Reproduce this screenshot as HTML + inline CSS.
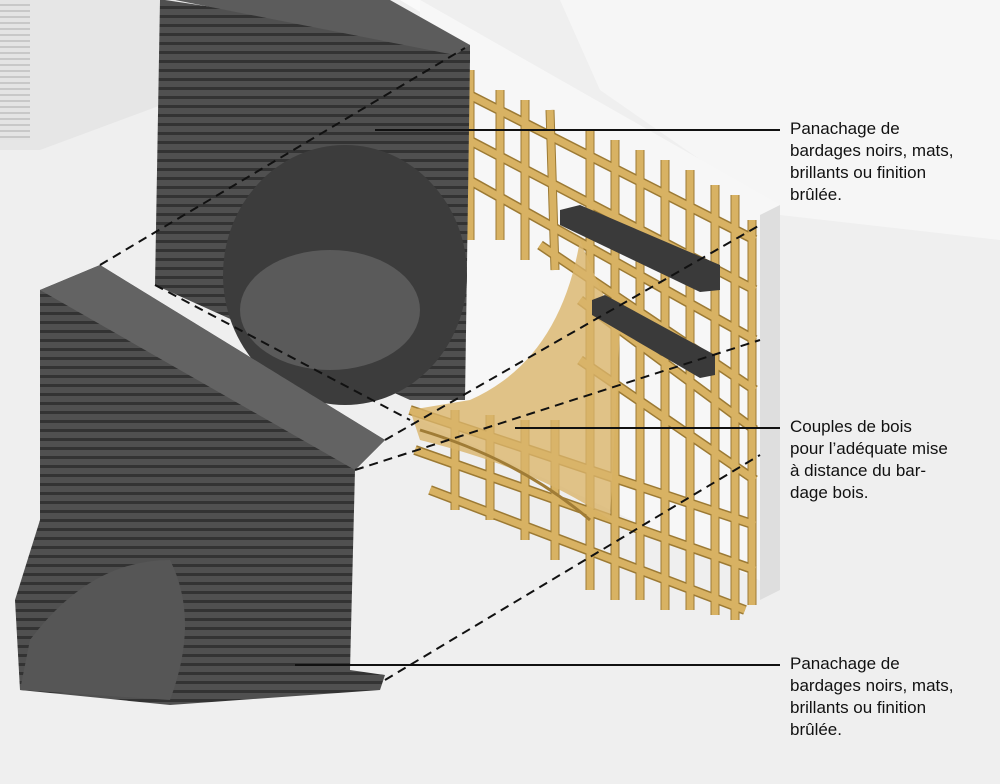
<!DOCTYPE html>
<html><head><style>
body{margin:0;width:1000px;height:784px;overflow:hidden;background:#efefef;font-family:"Liberation Sans",sans-serif}
.t{position:absolute;left:790px;font-size:17px;line-height:22px;color:#111}
</style></head><body>
<svg width="1000" height="784" style="position:absolute;left:0;top:0">
<defs>
<pattern id="st" width="10" height="9" patternUnits="userSpaceOnUse"><rect width="10" height="9" fill="#505050"/><rect y="6" width="10" height="3" fill="#333"/></pattern>
<pattern id="ws" width="10" height="6" patternUnits="userSpaceOnUse"><rect width="10" height="6" fill="#e4e4e4"/><rect y="4" width="10" height="2" fill="#c8c8c8"/></pattern>
</defs>
<rect width="1000" height="784" fill="#efefef"/>
<polygon points="0,0 175,0 175,100 40,150 0,150" fill="#e6e6e6"/>
<rect x="0" y="0" width="30" height="140" fill="url(#ws)"/>
<polygon points="560,0 1000,0 1000,240 780,215 600,90" fill="#f6f6f6"/>
<!-- wall -->
<polygon points="400,0 420,0 780,205 760,215" fill="#fafafa"/>
<polygon points="420,0 780,205 780,590 420,420" fill="#f7f7f7"/>
<polygon points="760,215 780,205 780,590 760,600" fill="#dedede"/>
<!-- lattice -->
<g stroke="#9c7a34" stroke-width="10" fill="none" stroke-linecap="butt">
<line x1="440" y1="80" x2="755" y2="240"/>
<line x1="440" y1="125" x2="755" y2="290"/>
<line x1="460" y1="175" x2="755" y2="340"/>
<line x1="540" y1="245" x2="755" y2="390"/>
<line x1="580" y1="300" x2="755" y2="430"/>
<line x1="580" y1="360" x2="755" y2="480"/>
<line x1="410" y1="410" x2="755" y2="525"/>
<line x1="415" y1="450" x2="755" y2="570"/>
<line x1="430" y1="490" x2="745" y2="610"/>
</g>
<g stroke="#9c7a34" stroke-width="9" fill="none">
<line x1="445" y1="60" x2="440" y2="310"/>
<line x1="470" y1="70" x2="470" y2="240"/>
<line x1="500" y1="90" x2="500" y2="240"/>
<line x1="525" y1="100" x2="525" y2="260"/>
<line x1="550" y1="110" x2="555" y2="270"/>
<line x1="590" y1="130" x2="590" y2="590"/>
<line x1="615" y1="140" x2="615" y2="600"/>
<line x1="640" y1="150" x2="640" y2="600"/>
<line x1="665" y1="160" x2="665" y2="610"/>
<line x1="690" y1="170" x2="690" y2="610"/>
<line x1="715" y1="185" x2="715" y2="615"/>
<line x1="735" y1="195" x2="735" y2="620"/>
<line x1="752" y1="220" x2="752" y2="605"/>
<line x1="455" y1="410" x2="455" y2="510"/>
<line x1="490" y1="415" x2="490" y2="520"/>
<line x1="525" y1="420" x2="525" y2="540"/>
<line x1="555" y1="420" x2="555" y2="560"/>
</g>
<g stroke="#d8b263" stroke-width="7" fill="none">
<line x1="440" y1="80" x2="755" y2="240"/>
<line x1="440" y1="125" x2="755" y2="290"/>
<line x1="460" y1="175" x2="755" y2="340"/>
<line x1="540" y1="245" x2="755" y2="390"/>
<line x1="580" y1="300" x2="755" y2="430"/>
<line x1="580" y1="360" x2="755" y2="480"/>
<line x1="410" y1="410" x2="755" y2="525"/>
<line x1="415" y1="450" x2="755" y2="570"/>
<line x1="430" y1="490" x2="745" y2="610"/>
<line x1="445" y1="60" x2="440" y2="310"/>
<line x1="470" y1="70" x2="470" y2="240"/>
<line x1="500" y1="90" x2="500" y2="240"/>
<line x1="525" y1="100" x2="525" y2="260"/>
<line x1="550" y1="110" x2="555" y2="270"/>
<line x1="590" y1="130" x2="590" y2="590"/>
<line x1="615" y1="140" x2="615" y2="600"/>
<line x1="640" y1="150" x2="640" y2="600"/>
<line x1="665" y1="160" x2="665" y2="610"/>
<line x1="690" y1="170" x2="690" y2="610"/>
<line x1="715" y1="185" x2="715" y2="615"/>
<line x1="735" y1="195" x2="735" y2="620"/>
<line x1="752" y1="220" x2="752" y2="605"/>
<line x1="455" y1="410" x2="455" y2="510"/>
<line x1="490" y1="415" x2="490" y2="520"/>
<line x1="525" y1="420" x2="525" y2="540"/>
<line x1="555" y1="420" x2="555" y2="560"/>
</g>
<path d="M580,240 Q560,360 470,400 L410,410 L420,440 Q540,470 610,520 L620,330 Q600,290 580,240 Z" fill="#d9b46a" opacity="0.8"/>
<path d="M420,430 Q520,460 590,520" stroke="#a07c36" stroke-width="3" fill="none"/>
<!-- dark boards on lattice -->
<polygon points="560,210 580,205 720,265 720,290 700,292 560,225" fill="#3a3a3a"/>
<polygon points="592,300 605,295 715,355 715,375 700,378 592,315" fill="#3a3a3a"/>
<!-- upper dark block -->
<polygon points="165,0 470,45 470,60 465,400 410,400 155,285 160,0" fill="url(#st)"/>
<polygon points="175,0 390,0 470,45 455,55" fill="#5c5c5c"/>
<ellipse cx="345" cy="275" rx="122" ry="130" fill="#3c3c3c"/>
<ellipse cx="330" cy="310" rx="90" ry="60" fill="#5a5a5a"/>
<!-- lower dark block -->
<polygon points="40,290 100,265 385,440 355,470 350,670 385,675 380,690 170,705 20,690 15,600 40,520" fill="url(#st)"/>
<polygon points="40,290 100,265 385,440 355,470" fill="#636363"/>
<path d="M30,640 Q90,560 170,560 Q200,620 170,700 L20,690 Z" fill="#565656"/>
<!-- leader lines -->
<g stroke="#111" stroke-width="2">
<line x1="375" y1="130" x2="780" y2="130"/>
<line x1="515" y1="428" x2="780" y2="428"/>
<line x1="295" y1="665" x2="780" y2="665"/>
</g>
<g stroke="#111" stroke-width="2" stroke-dasharray="9,6">
<line x1="100" y1="265" x2="465" y2="48"/>
<line x1="385" y1="440" x2="760" y2="225"/>
<line x1="355" y1="470" x2="760" y2="340"/>
<line x1="385" y1="680" x2="760" y2="455"/>
<line x1="155" y1="285" x2="410" y2="420"/>
</g>
</svg>
<div class="t" style="top:118px">Panachage de<br>bardages noirs, mats,<br>brillants ou finition<br>brûlée.</div>
<div class="t" style="top:416px">Couples de bois<br>pour l’adéquate mise<br>à distance du bar-<br>dage bois.</div>
<div class="t" style="top:653px">Panachage de<br>bardages noirs, mats,<br>brillants ou finition<br>brûlée.</div>
</body></html>
